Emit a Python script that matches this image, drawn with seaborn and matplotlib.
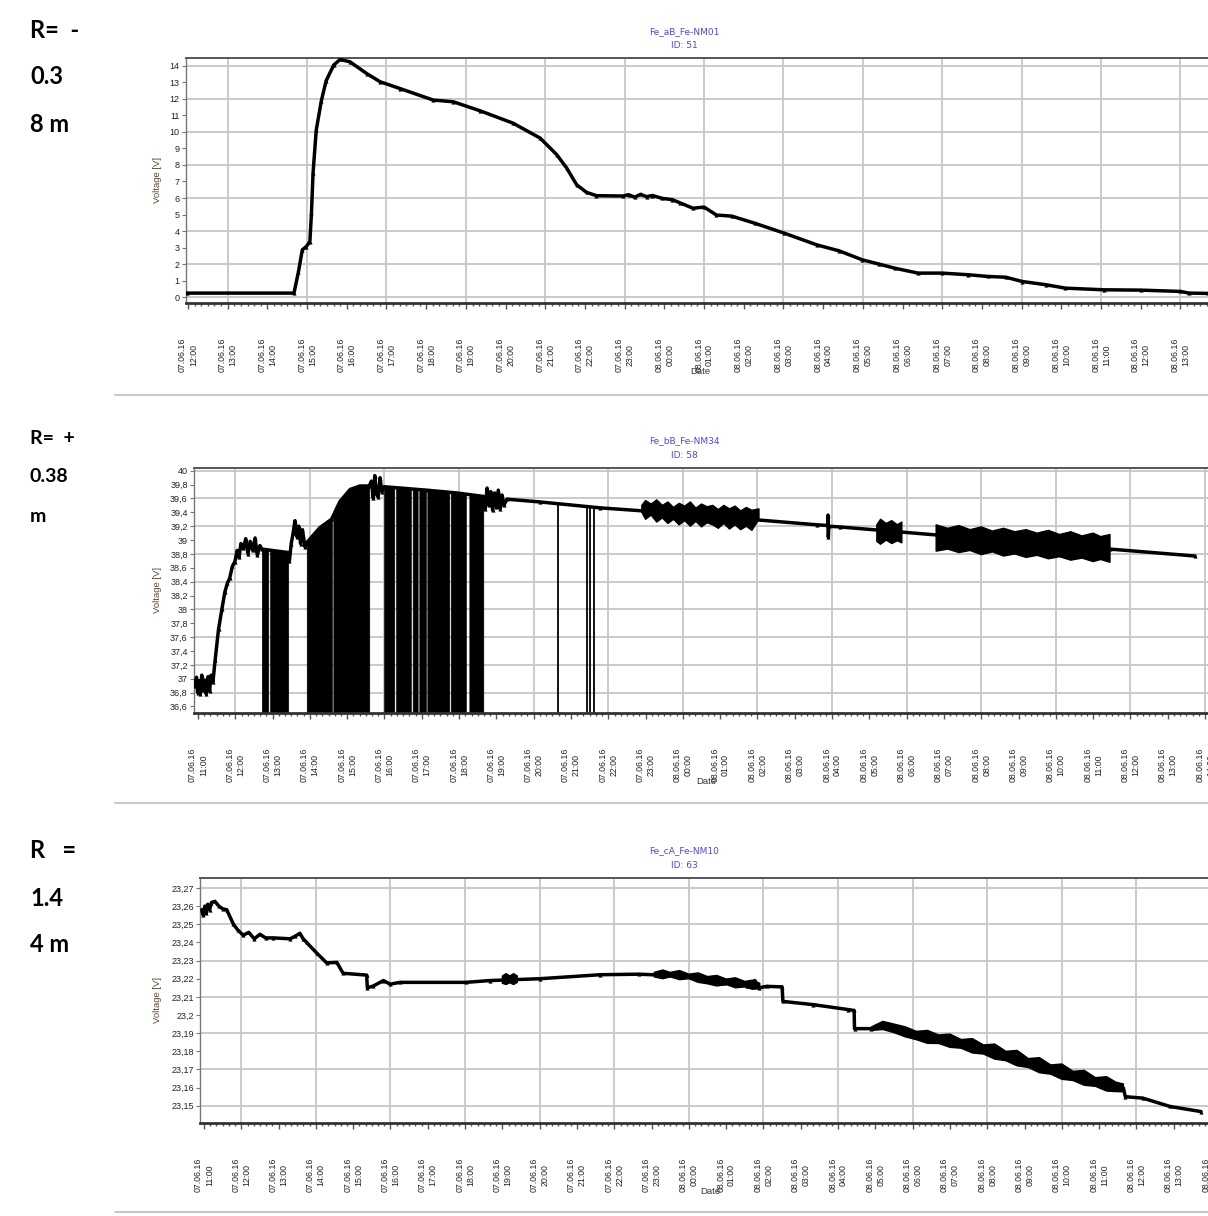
import numpy as np
import pandas as pd
import matplotlib
matplotlib.use("Agg")
import matplotlib.pyplot as plt
from matplotlib.lines import Line2D
from matplotlib.ticker import FixedLocator, MultipleLocator, FuncFormatter
import seaborn as sns

# time axis = hours since 07.06.16 00:00 (values > 24 are on 08.06.16)

# --- panel 1 : Fe_aB_Fe-NM01, ID 51 ---
t1 = [11.97, 14.67, 14.78, 14.88, 14.98, 15.07, 15.11, 15.15, 15.23, 15.36, 15.48, 15.67,
      15.83, 16.08, 16.5, 16.84, 17.34, 18.18, 18.68, 19.36, 20.19, 20.87, 21.29, 21.54,
      21.79, 22.04, 22.29, 22.96, 23.1, 23.25, 23.4, 23.55, 23.7, 23.94, 24.2, 24.4, 24.72,
      25.0, 25.31, 25.7, 26.28, 27.02, 27.84, 28.4, 28.99, 29.4, 29.8, 30.39, 31.0, 31.66,
      32.14, 32.6, 33.02, 33.6, 34.1, 35.07, 36.0, 37.0, 37.21, 37.69]
v1 = [0.24, 0.24, 1.5, 2.86, 3.06, 3.36, 5.08, 7.5, 10.1, 11.9, 13.1, 14.05,
      14.39, 14.25, 13.54, 13.04, 12.63, 11.93, 11.83, 11.28, 10.53, 9.63, 8.62, 7.81,
      6.80, 6.34, 6.14, 6.12, 6.2, 6.05, 6.22, 6.08, 6.15, 5.98, 5.9, 5.7, 5.38,
      5.45, 4.97, 4.9, 4.47, 3.87, 3.16, 2.8, 2.25, 2.0, 1.75, 1.45, 1.45, 1.35,
      1.25, 1.2, 0.94, 0.75, 0.54, 0.44, 0.42, 0.34, 0.24, 0.22]

# --- panel 2 : Fe_bB_Fe-NM34, ID 58 ---
t2 = [10.92, 10.96, 10.99, 11.03, 11.06, 11.10, 11.14, 11.18, 11.22, 11.27, 11.31, 11.35,
      11.40, 11.46, 11.55, 11.64, 11.72, 11.79, 11.85, 11.92, 11.99, 12.05, 12.10, 12.15,
      12.22, 12.28, 12.34, 12.40, 12.47, 12.53, 12.59, 12.66, 12.71, 13.42, 13.45, 13.50,
      13.55, 13.60, 13.65, 13.70, 13.75, 13.80, 13.87, 13.91, 14.27, 14.58, 14.81, 15.08,
      15.34, 15.59, 15.65, 15.70, 15.74, 15.78, 15.83, 15.88, 15.93, 15.99, 17.13, 17.94,
      18.65, 18.70, 18.75, 18.80, 18.85, 18.90, 18.95, 19.00, 19.05, 19.10, 19.15, 19.20,
      19.28, 20.17, 21.78, 24.0, 27.6, 27.88, 27.89, 27.90, 27.91, 28.2, 32.0, 35.45, 37.73]
v2 = [36.90, 37.02, 36.80, 36.97, 36.78, 37.05, 36.83, 36.98, 36.78, 37.03, 36.82, 37.05,
      36.95, 37.27, 37.71, 38.00, 38.25, 38.38, 38.45, 38.62, 38.69, 38.85, 38.75, 38.95,
      38.88, 39.02, 38.80, 38.98, 38.85, 39.03, 38.78, 38.92, 38.87, 38.82, 38.70, 38.95,
      39.10, 39.28, 39.05, 39.20, 38.95, 39.15, 38.90, 38.96, 39.18, 39.30, 39.56, 39.73,
      39.78, 39.78, 39.85, 39.60, 39.93, 39.68, 39.62, 39.90, 39.70, 39.77, 39.72, 39.68,
      39.63, 39.45, 39.75, 39.50, 39.70, 39.43, 39.68, 39.48, 39.72, 39.45, 39.65, 39.50,
      39.59, 39.55, 39.465, 39.38, 39.22, 39.21, 39.36, 39.04, 39.20, 39.19, 39.02, 38.87, 38.77]
# signal drop-outs (value falls off the bottom of the scale)
drop_start = [12.71, 12.93, 13.914, 14.628, 15.987, 16.308, 16.755, 16.933, 17.148, 17.775, 18.274]
drop_end = [12.885, 13.42, 14.593, 15.593, 16.263, 16.71, 16.89, 17.113, 17.737, 18.185, 18.65]
drop_single = [20.64, 21.42, 21.50, 21.61]
# noisy bands (envelopes, NaN between bands)
band2_t = [22.90, 23.0, 23.15, 23.3, 23.45, 23.6, 23.75, 23.9, 24.05, 24.2, 24.35, 24.5,
           24.65, 24.8, 24.95, 25.1, 25.25, 25.4, 25.55, 25.7, 25.85, 26.04, np.nan,
           29.2, 29.3, 29.45, 29.6, 29.75, 29.87, np.nan,
           30.79, 31.1, 31.4, 31.7, 32.0, 32.3, 32.6, 32.9, 33.2, 33.5, 33.8, 34.1,
           34.4, 34.7, 35.0, 35.2, 35.45]
band2_hi = [39.50, 39.57, 39.52, 39.58, 39.50, 39.55, 39.47, 39.53, 39.49, 39.55, 39.46, 39.52,
            39.48, 39.50, 39.44, 39.50, 39.45, 39.49, 39.42, 39.47, 39.43, 39.45, np.nan,
            39.22, 39.30, 39.24, 39.28, 39.22, 39.26, np.nan,
            39.22, 39.17, 39.21, 39.15, 39.19, 39.13, 39.17, 39.12, 39.15, 39.10, 39.14, 39.08,
            39.12, 39.06, 39.10, 39.05, 39.08]
band2_lo = [39.40, 39.30, 39.36, 39.26, 39.32, 39.24, 39.30, 39.22, 39.28, 39.20, 39.27, 39.19,
            39.25, 39.22, 39.17, 39.24, 39.16, 39.22, 39.15, 39.20, 39.14, 39.30, np.nan,
            38.98, 38.94, 39.00, 38.95, 38.99, 38.96, np.nan,
            38.84, 38.87, 38.82, 38.85, 38.79, 38.83, 38.77, 38.80, 38.75, 38.78, 38.73, 38.76,
            38.71, 38.74, 38.69, 38.72, 38.68]

# --- panel 3 : Fe_cA_Fe-NM10, ID 63 ---
t3 = [10.94, 10.98, 11.02, 11.06, 11.10, 11.15, 11.20, 11.29, 11.40, 11.50,
      11.61, 11.79, 11.9, 12.05, 12.2, 12.35, 12.5, 12.65, 12.86, 13.31,
      13.45, 13.57, 13.66, 13.75, 14.02, 14.29, 14.56, 14.73, 15.36, 15.38,
      15.54, 15.81, 15.99, 16.25, 18.02, 18.67, 20.0, 21.62, 22.66, 24.01,
      24.94, 25.25, 25.57, 25.77, 25.88, 26.09, 26.5, 26.52, 27.34, 28.27,
      28.43, 28.44, 28.89, 29.31, 29.93, 30.97, 32.01, 33.05, 34.09, 35.13,
      35.65, 35.7, 36.17, 36.9, 37.73]
v3 = [23.258, 23.255, 23.260, 23.256, 23.261, 23.258, 23.262, 23.2626, 23.260, 23.2585,
      23.258, 23.25, 23.247, 23.244, 23.2455, 23.242, 23.2445, 23.2425, 23.2425, 23.242,
      23.2435, 23.245, 23.242, 23.24, 23.2342, 23.2287, 23.229, 23.223, 23.222, 23.215,
      23.216, 23.219, 23.217, 23.218, 23.218, 23.219, 23.220, 23.2222, 23.2225, 23.2213,
      23.2176, 23.2195, 23.2158, 23.219, 23.215, 23.2158, 23.2155, 23.2075, 23.2057, 23.203,
      23.2025, 23.1925, 23.1925, 23.1947, 23.190, 23.1864, 23.1809, 23.1744, 23.168, 23.1625,
      23.1597, 23.155, 23.1542, 23.1496, 23.1468]
band3_t = [19.0, 19.1, 19.2, 19.3, 19.4, np.nan,
           23.07, 23.3, 23.5, 23.75, 24.0, 24.25, 24.5, 24.75, 25.0, 25.25, 25.5, 25.7, 25.9, np.nan,
           28.9, 29.2, 29.5, 29.8, 30.1, 30.4, 30.7, 31.0, 31.3, 31.6, 31.9, 32.2,
           32.5, 32.8, 33.1, 33.4, 33.7, 34.0, 34.3, 34.6, 34.9, 35.2, 35.45, 35.65]
band3_hi = [23.2215, 23.2228, 23.2215, 23.2228, 23.2215, np.nan,
            23.2235, 23.2248, 23.2235, 23.2245, 23.2225, 23.2232, 23.2212, 23.2218, 23.2198,
            23.2205, 23.2185, 23.2192, 23.2175, np.nan,
            23.1935, 23.1965, 23.1950, 23.1935, 23.1910, 23.1915, 23.1890, 23.1895, 23.1865,
            23.1870, 23.1835, 23.1840, 23.1800, 23.1805, 23.1760, 23.1765, 23.1725, 23.1730,
            23.1690, 23.1695, 23.1655, 23.1660, 23.1630, 23.1620]
band3_lo = [23.2175, 23.2168, 23.2178, 23.2168, 23.2180, np.nan,
            23.2210, 23.2200, 23.2210, 23.2195, 23.2200, 23.2180, 23.2172, 23.2160, 23.2168,
            23.2150, 23.2155, 23.2142, 23.2145, np.nan,
            23.1915, 23.1920, 23.1903, 23.1880, 23.1864, 23.1844, 23.1843, 23.1822, 23.1817,
            23.1791, 23.1785, 23.1757, 23.1748, 23.1720, 23.1711, 23.1682, 23.1674, 23.1646,
            23.1639, 23.1613, 23.1607, 23.1581, 23.1578, 23.1577]

titles = [("Fe_aB_Fe-NM01", "ID: 51"), ("Fe_bB_Fe-NM34", "ID: 58"), ("Fe_cA_Fe-NM10", "ID: 63")]
side_notes = [["R=  -", "0.3", "8 m"], ["R=  +", "0.38", "m"], ["R   =", "1.4", "4 m"]]

sns.set_style("white")
plt.rcParams["font.family"] = ["Liberation Sans", "DejaVu Sans"]

W, H = 1208, 1216
fig = plt.figure(figsize=(W / 100, H / 100), dpi=100)


def rect(left, top, bottom, right=1222):
    return [left / W, 1 - bottom / H, (right - left) / W, (bottom - top) / H]


def date_label(h):
    day = 7 + int(h) // 24
    return f"{day:02d}.06.16\n{int(h) % 24:02d}:00"


def comma(v, pos):
    return ("%g" % round(v, 3)).replace(".", ",")


def style_axis(ax, xlim, ticks, xgrid, ylim, yticks, ygrid):
    ax.set_xlim(*xlim)
    ax.set_ylim(*ylim)
    for g in xgrid:
        ax.axvline(g, color="#c6c6c6", lw=1.3, zorder=0)
    for g in ygrid:
        ax.axhline(g, color="#c6c6c6", lw=1.3, zorder=0)
    ax.set_xticks(ticks)
    ax.set_xticklabels([date_label(h) for h in ticks], rotation=90, ha="center",
                       va="top", multialignment="center", fontsize=6.3,
                       color="#222222", linespacing=1.25)
    ax.xaxis.set_minor_locator(MultipleLocator(1 / 6))
    ax.yaxis.set_major_locator(FixedLocator(yticks))
    ax.yaxis.set_major_formatter(FuncFormatter(comma))
    ax.tick_params(axis="x", which="major", pad=21, length=4, width=1, color="#555555")
    ax.tick_params(axis="x", which="minor", length=2, width=1, color="#555555")
    ax.tick_params(axis="y", which="major", length=3, width=0.8, color="#777777",
                   labelsize=6.5, labelcolor="#222222", pad=1.5)
    ax.tick_params(bottom=True, left=True, which="both")
    for s in ("left", "right", "top"):
        ax.spines[s].set_color("#777777")
        ax.spines[s].set_linewidth(1.0)
    ax.spines["top"].set_color("#555555")
    ax.spines["top"].set_linewidth(1.4)
    ax.spines["bottom"].set_color("#333333")
    ax.spines["bottom"].set_linewidth(2.0)
    ax.set_xlabel("")
    ax.set_ylabel("")


line_kw = dict(color="black", lw=2.5, marker="^", markersize=3, markeredgewidth=0,
               estimator=None, zorder=3)

# panel 1
ax1 = fig.add_axes(rect(186, 58, 303))
sns.lineplot(x=t1, y=v1, ax=ax1, **line_kw)
style_axis(ax1, (11.95, 11.95 + (1222 - 186) / 39.7), list(range(12, 38)),
           list(range(13, 38, 2)), (-0.36, 14.48), list(range(0, 15)),
           list(range(0, 15, 2)))

# panel 2
ax2 = fig.add_axes(rect(194, 468, 713))
for s, e in zip(drop_start, drop_end):
    xs = [s] + [t for t in t2 if s < t < e] + [e]
    ax2.fill_between(xs, 36.0, np.interp(xs, t2, v2), color="black", lw=0.4, zorder=2)
ax2.vlines(drop_single, 36.0, np.interp(drop_single, t2, v2), color="black", lw=1.3, zorder=2)
ax2.fill_between(band2_t, band2_lo, band2_hi, color="black", lw=1.0, zorder=3)
sns.lineplot(x=t2, y=v2, ax=ax2, **line_kw)
style_axis(ax2, (10.893, 10.893 + (1222 - 194) / 37.3), list(range(11, 39)),
           list(range(12, 39, 2)), (36.505, 40.04),
           [round(36.6 + 0.2 * i, 1) for i in range(18)],
           [round(36.8 + 0.4 * i, 1) for i in range(9)])

# panel 3
ax3 = fig.add_axes(rect(200, 878, 1123))
ax3.fill_between(band3_t, band3_lo, band3_hi, color="black", lw=1.0, zorder=3)
sns.lineplot(x=t3, y=v3, ax=ax3, **line_kw)
style_axis(ax3, (10.893, 10.893 + (1222 - 200) / 37.3), list(range(11, 39)),
           list(range(12, 39, 2)), (23.1405, 23.2755),
           [round(23.15 + 0.01 * i, 2) for i in range(13)],
           [round(23.15 + 0.02 * i, 2) for i in range(7)])

# header, axis titles and side notes
tops = [32, 441, 851]
ycent = [180, 590, 1000]
date_pos = [(700, 372), (706, 782), (710, 1192)]
for (name, ident), ty, yc, (dx, dy) in zip(titles, tops, ycent, date_pos):
    fig.text(684 / W, 1 - ty / H, name, color="#4646ff", fontsize=6.5,
             family=["DejaVu Sans"], ha="center", va="center")
    fig.text(684 / W, 1 - (ty + 14) / H, ident, color="#4646ff", fontsize=6.5,
             family=["DejaVu Sans"], ha="center", va="center")
    fig.text(157 / W, 1 - yc / H, "Voltage [V]", rotation=90, fontsize=6.8,
             color="#5a4632", ha="center", va="center")
    fig.text(dx / W, 1 - dy / H, "Date", fontsize=6.8, color="#333333",
             ha="center", va="center")

note_y = [[30, 77, 125], [438, 477, 517], [851, 898, 945]]
note_size = [17, 14, 17]
for lines, ys, fs in zip(side_notes, note_y, note_size):
    for txt, y in zip(lines, ys):
        fig.text(30 / W, 1 - y / H, txt, fontsize=fs, fontweight="bold",
                 family=["Lato", "DejaVu Sans"], ha="left", va="center", color="black")

for y in (395, 803, 1212):
    fig.add_artist(Line2D([115 / W, 1.0], [1 - y / H, 1 - y / H],
                          transform=fig.transFigure, color="#c8c8c8", lw=1.5))

fig.savefig("out.png", dpi=100)
